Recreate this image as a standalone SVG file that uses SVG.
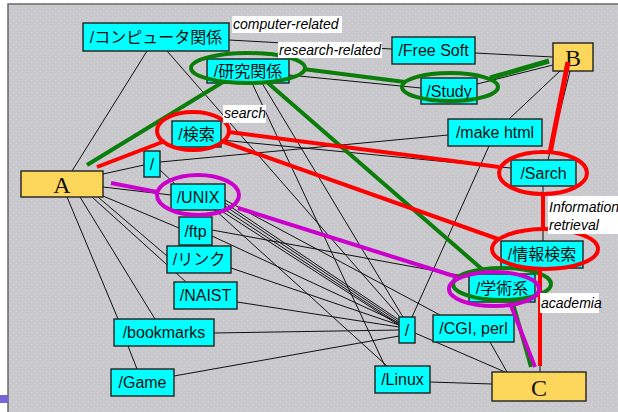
<svg xmlns="http://www.w3.org/2000/svg" width="618" height="412" viewBox="0 0 618 412">
  <style>
    .node rect { fill: #00ffff; stroke: #222; stroke-width: 1.4; }
    .node text { font-family: "Liberation Sans", "Noto Sans CJK JP", sans-serif; font-size: 16px; fill: #111; text-anchor: middle; }
    .site rect { fill: #fdd65c; stroke: #222; stroke-width: 1.4; }
    .site text { font-family: "Liberation Serif", serif; font-size: 24px; fill: #111; text-anchor: middle; }
    .links line { stroke: #111; stroke-width: 1; }
    .hl { fill: none; stroke-width: 4; stroke-linecap: butt; }
    .green { stroke: #0a7d0a; }
    .red { stroke: #ff0000; }
    .purple { stroke: #cc00cc; }
    .label rect { fill: #ffffff; }
    .label text { font-family: "Liberation Sans", sans-serif; font-size: 14px; font-style: italic; fill: #000; }
  </style>
  <defs>
    <pattern id="grain" width="6" height="6" patternUnits="userSpaceOnUse">
      <rect width="6" height="6" fill="#c9c9cd"/>
      <rect x="1" y="2" width="1" height="1" fill="#d8d8dc"/>
      <rect x="4" y="5" width="1" height="1" fill="#d8d8dc"/>
    </pattern>
  </defs>

  <!-- page and panel -->
  <rect width="618" height="412" fill="#ffffff"/>
  <rect x="8" y="4" width="610" height="408" fill="url(#grain)"/>
  <path d="M8 412 V4 H618" fill="none" stroke="#6a6a6a" stroke-width="1.5"/>
  <rect x="0" y="395" width="8" height="8" fill="#7a64d8"/>

  <!-- thin connectors -->
  <g id="connectors" class="links">
    <line x1="72" y1="171" x2="147" y2="51"/>
    <line x1="103" y1="174" x2="144" y2="165"/>
    <line x1="103" y1="187" x2="171" y2="195"/>
    <line x1="103" y1="196" x2="179" y2="228"/>
    <line x1="98" y1="197" x2="167" y2="256"/>
    <line x1="92" y1="197" x2="186" y2="282"/>
    <line x1="80" y1="197" x2="155" y2="319"/>
    <line x1="67" y1="197" x2="118" y2="319"/>
    <line x1="160" y1="170" x2="175" y2="184"/>
    <line x1="160" y1="162" x2="448" y2="135"/>
    <line x1="221" y1="140" x2="511" y2="168"/>
    <line x1="167" y1="51" x2="400" y2="317"/>
    <line x1="229" y1="40" x2="392" y2="49"/>
    <line x1="289" y1="75" x2="421" y2="88"/>
    <line x1="262" y1="83" x2="403" y2="317"/>
    <line x1="252" y1="83" x2="385" y2="366"/>
    <line x1="225" y1="203" x2="399" y2="320"/>
    <line x1="225" y1="206" x2="399" y2="322"/>
    <line x1="224" y1="209" x2="399" y2="324"/>
    <line x1="220" y1="210" x2="400" y2="326"/>
    <line x1="215" y1="210" x2="387" y2="366"/>
    <line x1="225" y1="200" x2="440" y2="315"/>
    <line x1="212" y1="236" x2="399" y2="323"/>
    <line x1="212" y1="230" x2="469" y2="277"/>
    <line x1="231" y1="268" x2="399" y2="325"/>
    <line x1="237" y1="302" x2="399" y2="327"/>
    <line x1="214" y1="333" x2="399" y2="330"/>
    <line x1="128" y1="346" x2="137" y2="369"/>
    <line x1="174" y1="376" x2="399" y2="336"/>
    <line x1="415" y1="333" x2="505" y2="372"/>
    <line x1="489" y1="146" x2="412" y2="317"/>
    <line x1="560" y1="71" x2="509" y2="119"/>
    <line x1="570" y1="71" x2="548" y2="160"/>
    <line x1="475" y1="53" x2="553" y2="57"/>
    <line x1="477" y1="84" x2="553" y2="65"/>
    <line x1="490" y1="342" x2="507" y2="372"/>
    <line x1="430" y1="382" x2="492" y2="384"/>
    <line x1="543" y1="186" x2="543" y2="241"/>
    <line x1="540" y1="268" x2="540" y2="372"/>
  </g>

  <!-- nodes -->
  <g id="n-computer" class="node"><rect x="83" y="23" width="146" height="28"/><text x="156" y="43">/コンピュータ関係</text></g>
  <g id="n-research" class="node"><rect x="207" y="59" width="82" height="24"/><text x="248" y="77">/研究関係</text></g>
  <g id="n-kensaku" class="node"><rect x="172" y="121" width="49" height="26"/><text x="196.5" y="140">/検索</text></g>
  <g id="n-root1" class="node"><rect x="144" y="151" width="16" height="26"/><text x="152" y="170">/</text></g>
  <g id="n-unix" class="node"><rect x="171" y="184" width="54" height="26"/><text x="198" y="203">/UNIX</text></g>
  <g id="n-ftp" class="node"><rect x="179" y="217" width="33" height="28"/><text x="195.5" y="237">/ftp</text></g>
  <g id="n-link" class="node"><rect x="167" y="246" width="64" height="27"/><text x="199" y="265">/リンク</text></g>
  <g id="n-naist" class="node"><rect x="174" y="282" width="63" height="27"/><text x="205.5" y="301">/NAIST</text></g>
  <g id="n-bookmarks" class="node"><rect x="114" y="319" width="100" height="27"/><text x="164" y="338">/bookmarks</text></g>
  <g id="n-game" class="node"><rect x="111" y="369" width="63" height="27"/><text x="142.5" y="388">/Game</text></g>
  <g id="n-freesoft" class="node"><rect x="392" y="37" width="83" height="27"/><text x="433.5" y="56">/Free Soft</text></g>
  <g id="n-study" class="node"><rect x="421" y="78" width="56" height="26"/><text x="449" y="97">/Study</text></g>
  <g id="n-makehtml" class="node"><rect x="448" y="119" width="94" height="27"/><text x="495" y="138">/make html</text></g>
  <g id="n-sarch" class="node"><rect x="511" y="160" width="65" height="26"/><text x="543.5" y="179">/Sarch</text></g>
  <g id="n-jouhou" class="node"><rect x="501" y="241" width="82" height="27"/><text x="542" y="260">/情報検索</text></g>
  <g id="n-gakujutsu" class="node"><rect x="469" y="274" width="66" height="28"/><text x="502" y="294">/学術系</text></g>
  <g id="n-root2" class="node"><rect x="399" y="317" width="16" height="26"/><text x="407" y="336">/</text></g>
  <g id="n-cgi" class="node"><rect x="433" y="315" width="81" height="27"/><text x="473.5" y="334">/CGI, perl</text></g>
  <g id="n-linux" class="node"><rect x="375" y="366" width="55" height="27"/><text x="402.5" y="385">/Linux</text></g>
  <g id="n-A" class="site"><rect x="21" y="171" width="82" height="26"/><text x="62" y="193">A</text></g>
  <g id="n-B" class="site"><rect x="553" y="43" width="40" height="28"/><text x="573" y="66">B</text></g>
  <g id="n-C" class="site"><rect x="492" y="372" width="94" height="29"/><text x="539" y="396">C</text></g>

  <!-- highlighted routes -->
  <g id="route-research" class="hl green">
    <line x1="87" y1="165" x2="223" y2="82"/>
    <line x1="303" y1="69" x2="405" y2="82"/>
    <line x1="490" y1="78" x2="549" y2="61" stroke-width="5"/>
    <line x1="268" y1="83" x2="483" y2="270"/>
    <line x1="512" y1="300" x2="531" y2="367"/>
    <ellipse cx="248" cy="68" rx="57" ry="15"/>
    <ellipse cx="450" cy="87" rx="48" ry="14"/>
    <ellipse cx="502" cy="284" rx="49" ry="16"/>
  </g>
  <g id="route-search" class="hl red">
    <line x1="97" y1="167" x2="165" y2="141"/>
    <line x1="229" y1="132" x2="499" y2="167"/>
    <line x1="224" y1="142" x2="498" y2="239"/>
    <line x1="568" y1="62" x2="550" y2="153" stroke-width="5"/>
    <line x1="543" y1="194" x2="543" y2="229"/>
    <line x1="540" y1="269" x2="540" y2="366"/>
    <ellipse cx="193" cy="131" rx="36" ry="19"/>
    <ellipse cx="543" cy="173" rx="44" ry="21"/>
    <ellipse cx="545" cy="249" rx="53" ry="20"/>
  </g>
  <g id="route-unix" class="hl purple">
    <line x1="111" y1="183" x2="157" y2="192"/>
    <line x1="238" y1="208" x2="457" y2="277"/>
    <line x1="510" y1="303" x2="535" y2="367"/>
    <ellipse cx="198" cy="195" rx="41" ry="20"/>
    <ellipse cx="494" cy="289" rx="45" ry="17"/>
  </g>

  <!-- route labels -->
  <g id="labels" class="label">
    <rect x="232" y="16" width="110" height="17"/><text x="233" y="29">computer-related</text>
    <rect x="278" y="42" width="104" height="16"/><text x="279" y="55">research-related</text>
    <rect x="223" y="105" width="43" height="18"/><text x="224" y="118">search</text>
    <rect x="548" y="196" width="70" height="38"/><text x="549" y="212" font-size="13">Information</text><text x="549" y="230">retrieval</text>
    <rect x="540" y="293" width="59" height="20"/><text x="541" y="308">academia</text>
  </g>
</svg>
